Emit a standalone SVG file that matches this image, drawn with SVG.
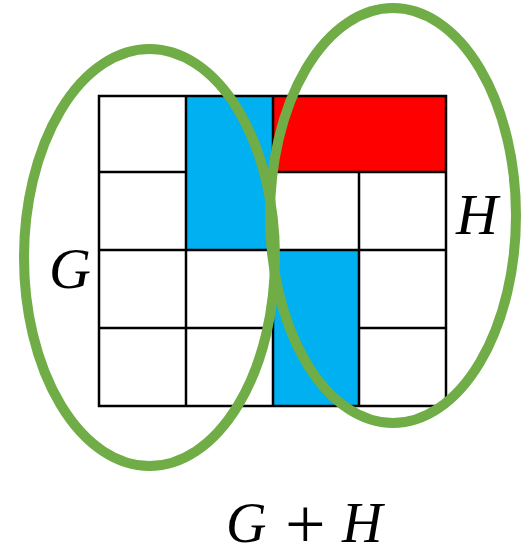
<svg xmlns="http://www.w3.org/2000/svg" width="531" height="554" viewBox="0 0 531 554">
<style>
.g{stroke:#000;stroke-width:2.5;fill:none;stroke-linecap:square}
.e{fill:none;stroke:#70AD47;stroke-width:10}
.t{font-family:"Liberation Serif",serif;font-style:italic;font-size:58px;fill:#000}
.b{font-family:"Liberation Serif",serif;font-style:italic;font-size:56px;fill:#000}
.p{font-family:"Liberation Serif",serif;font-size:72px;fill:#000}
</style>
<rect width="531" height="554" fill="#fff"/>
<g id="grid">
<rect x="186" y="96" width="87" height="154" fill="#00B0F0"/>
<rect x="273" y="250" width="86" height="156" fill="#00B0F0"/>
<rect x="273" y="96" width="173" height="76" fill="#FF0000"/>
<path class="g" d="M99 96H446V406H99Z M186 96V406 M273 96V406 M359 172V406 M99 172H186 M273 172H446 M99 250H446 M99 328H273 M359 328H446"/>
</g>
<g id="G-set"><ellipse class="e" cx="149.5" cy="257.5" rx="125.5" ry="208.5"/><text class="t" x="49" y="288">G</text></g>
<g id="H-set"><ellipse class="e" cx="393" cy="215.5" rx="123" ry="207.5"/><text class="t" x="456" y="234">H</text></g>
<g id="label"><text class="b" x="226" y="542">G</text><text class="p" x="285" y="548">+</text><text class="b" x="342" y="542">H</text></g>
</svg>
